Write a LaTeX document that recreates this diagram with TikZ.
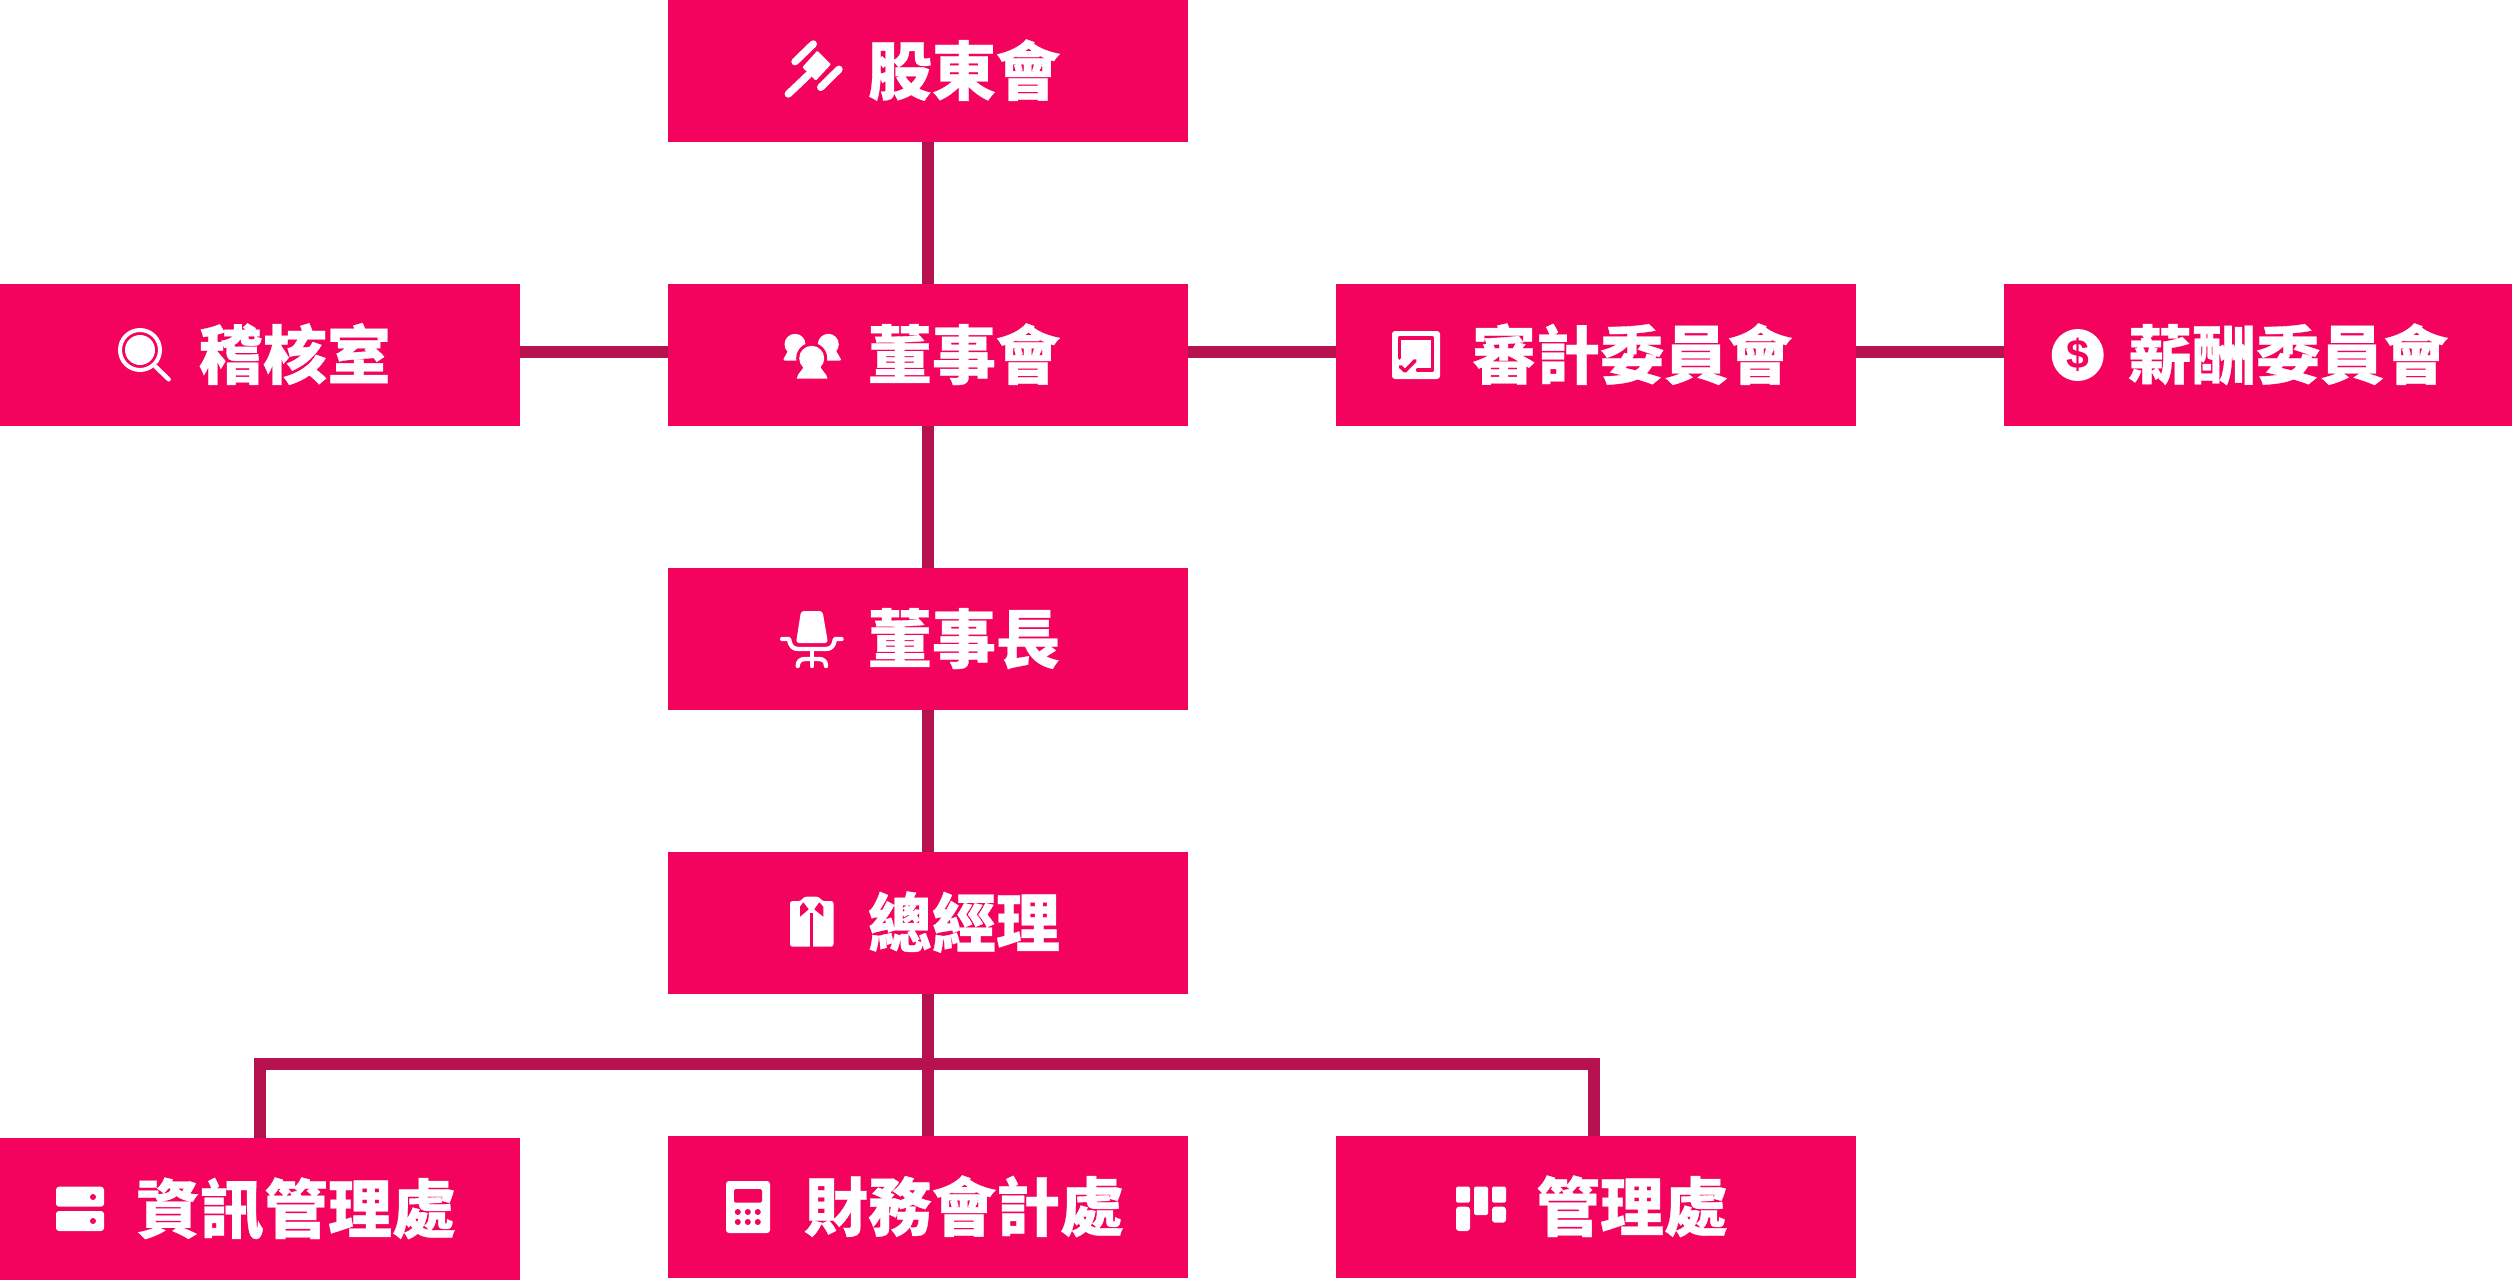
\documentclass[tikz,border=0pt]{standalone}
\usepackage{fontspec}
\setmainfont{Noto Sans CJK TC Black}[FakeBold=0.5]
\newfontfamily\dollarfont{Liberation Sans Bold}
\definecolor{boxpink}{HTML}{F3025E}
\definecolor{linered}{HTML}{B7114F}
\newcommand{\lab}[2][72]{\hspace*{#1pt}#2}
\tikzset{
  box/.style={rectangle,fill=boxpink,text=white,inner sep=0pt,minimum width=520pt,minimum height=142pt,
    font=\fontsize{64pt}{64pt}\selectfont,text height=49pt,text depth=1.4pt},
  link/.style={draw=linered,line width=12pt,line join=miter},
  ico/.style={fill=white,draw=none},
  icl/.style={draw=white,line width=7.4pt,line cap=round},
  ics/.style={draw=white,line width=4.4pt,line cap=round,line join=round},
  cut/.style={draw=boxpink,line width=3.6pt,line cap=round,line join=round},
  dot/.style={fill=boxpink,draw=none}
}
\begin{document}
\begin{tikzpicture}[x=1pt,y=-1pt]
\useasboundingbox (0,0) rectangle (2512,1280);
% boxes
\node[box] (sh)  at (928,71)  {\lab{股東會}};
\node[box] (bd)  at (928,355) {\lab{董事會}};
\node[box] (ch)  at (928,639) {\lab{董事長}};
\node[box] (gm)  at (928,923) {\lab{總經理}};
\node[box] (au)  at (260,355) {\lab[70]{稽核室}};
\node[box] (ac)  at (1596,355) {\lab{審計委員會}};
\node[box,minimum width=508pt] (pay) at (2258,355) {\lab[60]{薪酬委員會}};
\node[box] (it)  at (260,1209) {\lab[72]{資訊管理處}};
\node[box] (fin) at (928,1207) {\lab{財務會計處}};
\node[box] (mg)  at (1596,1207) {\lab{管理處}};
\coordinate (bar) at (928,1064);
% connectors
\draw[link] (sh.south) -- (bd.north);
\draw[link] (bd.south) -- (ch.north);
\draw[link] (ch.south) -- (gm.north);
\draw[link] (gm.south) -- (fin.north);
\draw[link] (it.north) |- (bar) -| ([xshift=-2pt]mg.north);
\draw[link] ([yshift=3pt]au.east) -- ([yshift=3pt]bd.west);
\draw[link] ([yshift=3pt]bd.east) -- ([yshift=3pt]ac.west);
\draw[link] ([yshift=3pt]ac.east) -- ([yshift=3pt]pay.west);
% gavel
\draw[icl] (795,61.7) -- (813.3,44);
\draw[icl] (820.7,87.3) -- (839,69.3);
\draw[icl] (788.3,94) -- (808.3,75);
\fill[ico,rounded corners=1pt] (817.3,50.7) -- (831,64.3) -- (815.7,80.7) -- (802.3,67.3) -- cycle;
% people
\fill[ico] (795,344.3) circle (10.5);
\fill[ico] (828.3,344.3) circle (10.5);
\fill[ico,rounded corners=2pt] (782.7,360.5) -- (789,349) -- (804,349) -- (804,360.5) -- cycle;
\fill[ico,rounded corners=2pt] (841.7,360.5) -- (835,349) -- (820,349) -- (820,360.5) -- cycle;
\fill[boxpink] (811.7,358.3) circle (15.5);
\fill[ico] (811.7,358.3) circle (12.5);
\fill[ico] (796.7,378.7) .. controls (797.5,372) and (803,372) .. (804,364) -- (820,364) .. controls (821,372) and (826.5,372) .. (827.5,378.7) -- cycle;
% magnifier
\draw[white,line width=4pt] (140,350) circle (20);
\fill[ico] (140,350) circle (15);
\draw[white,line width=4.4pt,line cap=round] (155.6,366.7) -- (168.7,379.3);
% checked doc
\fill[ico,rounded corners=3pt] (1392,331) rectangle (1440,379);
\draw[cut] (1399.6,358) -- (1399.6,338) -- (1432.5,338) -- (1432.5,370) -- (1417.6,370);
\draw[cut] (1400.4,366.7) -- (1405,371) -- (1415,360.7);
% dollar
\fill[ico] (2077.7,355) circle (26);
\node[text=boxpink,inner sep=0pt,font=\dollarfont\fontsize{41pt}{41pt}\selectfont] (dollar) at (2077.7,355) {\$};
% chair
\fill[ico,rounded corners=3pt] (801,611) -- (822.5,611) -- (828,643) -- (796,643) -- cycle;
\draw[ics] (782.2,639) -- (789,639) .. controls (790,646) and (793,649) .. (798,649) -- (826,649) .. controls (831,649) and (834,646) .. (835,639) -- (841.5,639);
\draw[ics] (812,649) -- (812,666);
\draw[ics] (797.7,666) .. controls (797.7,661) and (801,659) .. (805,659) -- (819,659) .. controls (823,659) and (826,661) .. (826,666);
% shirt
\fill[ico,rounded corners=2.5pt] (790,901) -- (801,901) -- (804,896.7) -- (819,896.7) -- (822,901) -- (833.5,901) -- (833.5,946.7) -- (790,946.7) -- cycle;
\fill[dot] (810,913) rectangle (813.4,947);
\fill[dot] (803.3,902.3) -- (808.7,909.3) -- (800,916.7) -- (800,906.7) -- cycle;
\fill[dot] (819.3,902.3) -- (814.3,909.3) -- (823.3,916.7) -- (823.3,906.7) -- cycle;
% server
\fill[ico,rounded corners=3pt] (56,1186.7) rectangle (104,1206.7);
\fill[ico,rounded corners=3pt] (56,1211) rectangle (104,1231);
\fill[dot] (93,1197) circle (3);
\fill[dot] (93,1221) circle (3);
% calculator
\fill[ico,rounded corners=3pt] (726,1181) rectangle (770,1233);
\fill[dot,rounded corners=1.5pt] (734,1189) rectangle (762,1202.7);
\foreach \px in {737.8,747.8,757.8}{\foreach \py in {1212,1222}{\fill[dot] (\px,\py) circle (3);}}
% board
\fill[ico,rounded corners=1.5pt] (1456,1186.7) rectangle (1470,1202.7);
\fill[ico,rounded corners=3pt] (1456,1206.7) rectangle (1470,1231);
\fill[ico,rounded corners=1.5pt] (1474,1186.7) rectangle (1488,1215);
\fill[ico,rounded corners=1.5pt] (1492,1186.7) rectangle (1506,1202.7);
\fill[ico,rounded corners=3pt] (1492,1206.7) rectangle (1506,1222.7);
\end{tikzpicture}
\end{document}
